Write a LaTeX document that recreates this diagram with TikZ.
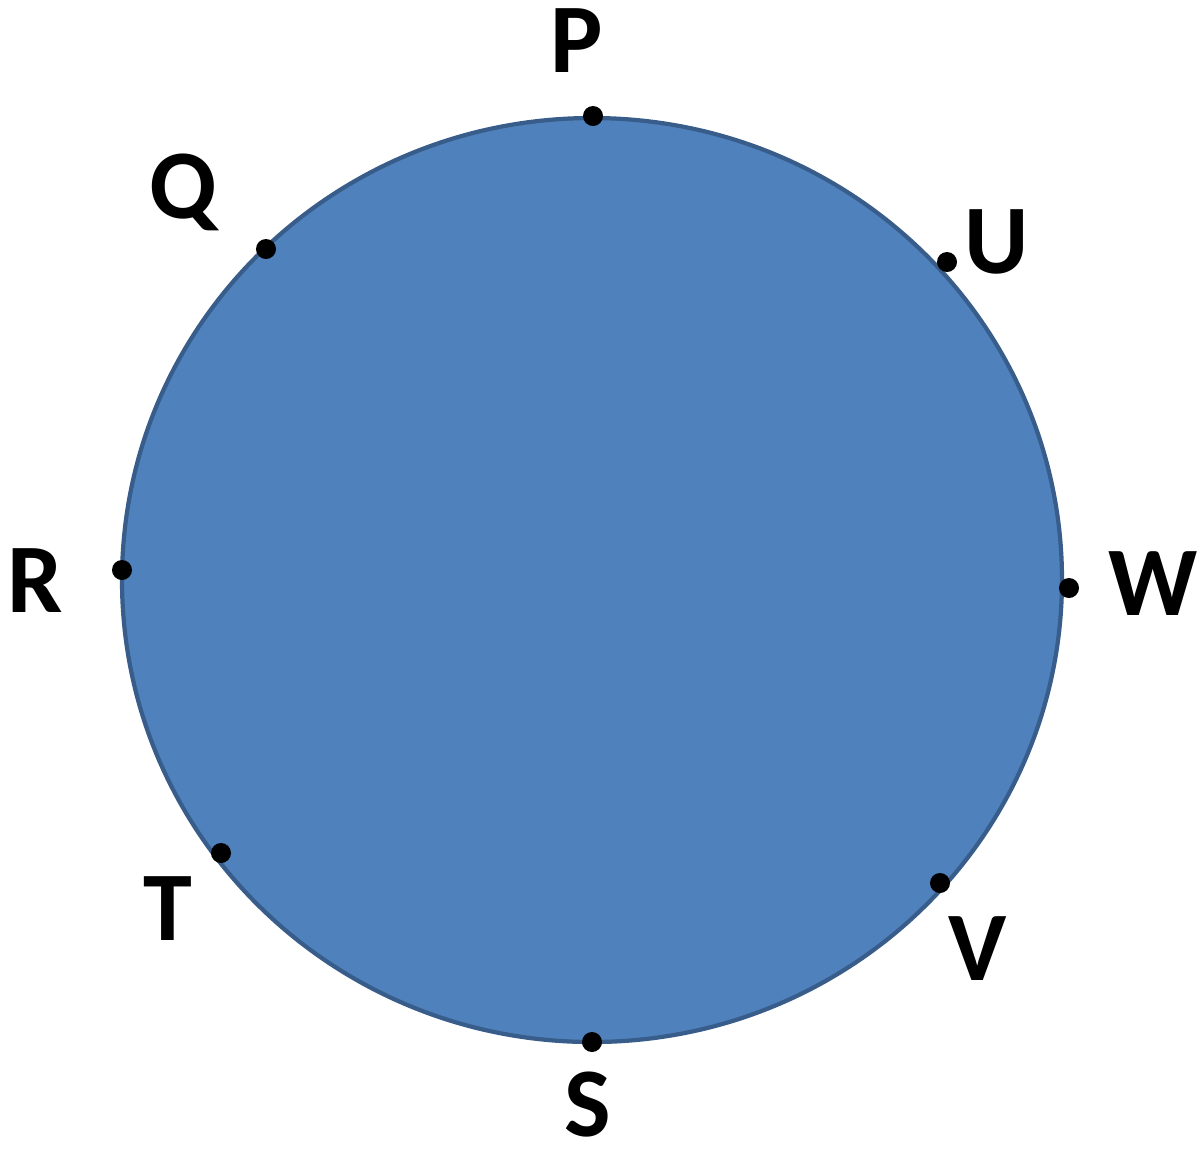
\documentclass[tikz,border=0pt]{standalone}
\usepackage{fontspec}
\setmainfont{Carlito}
\definecolor{discfill}{RGB}{79,129,189}
\definecolor{discedge}{RGB}{56,93,138}

\begin{document}
\begin{tikzpicture}[x=0.01cm,y=-0.01cm,
  dot/.style={circle,fill=black,inner sep=0pt,minimum size=0.2cm},
  lbl/.style={anchor=base,inner sep=0pt,font=\fontsize{28}{30}\selectfont\bfseries}]
\useasboundingbox (0,0) rectangle (1199,1156);
\fill[discfill] (592,580) circle [x radius=470,y radius=462];
\draw[discedge,line width=1.2pt] (592,580) circle [x radius=470,y radius=462];
\foreach \n/\px/\py in {p/593/116,q/266/249,u/947/262,r/122/570,
                         w/1069/588,t/221/853,v/940/883,s/592/1042}
  \node[dot] (\n) at (\px,\py) {};
\foreach \n/\txt/\px/\py in {plab/P/577/72,qlab/Q/183/218,ulab/U/997/273,
                             rlab/R/35/612,wlab/W/1153/615,tlab/T/168/940,
                             vlab/V/978/980,slab/S/588/1136}
  \node[lbl] (\n) at (\px,\py) {\txt};
\end{tikzpicture}
\end{document}
